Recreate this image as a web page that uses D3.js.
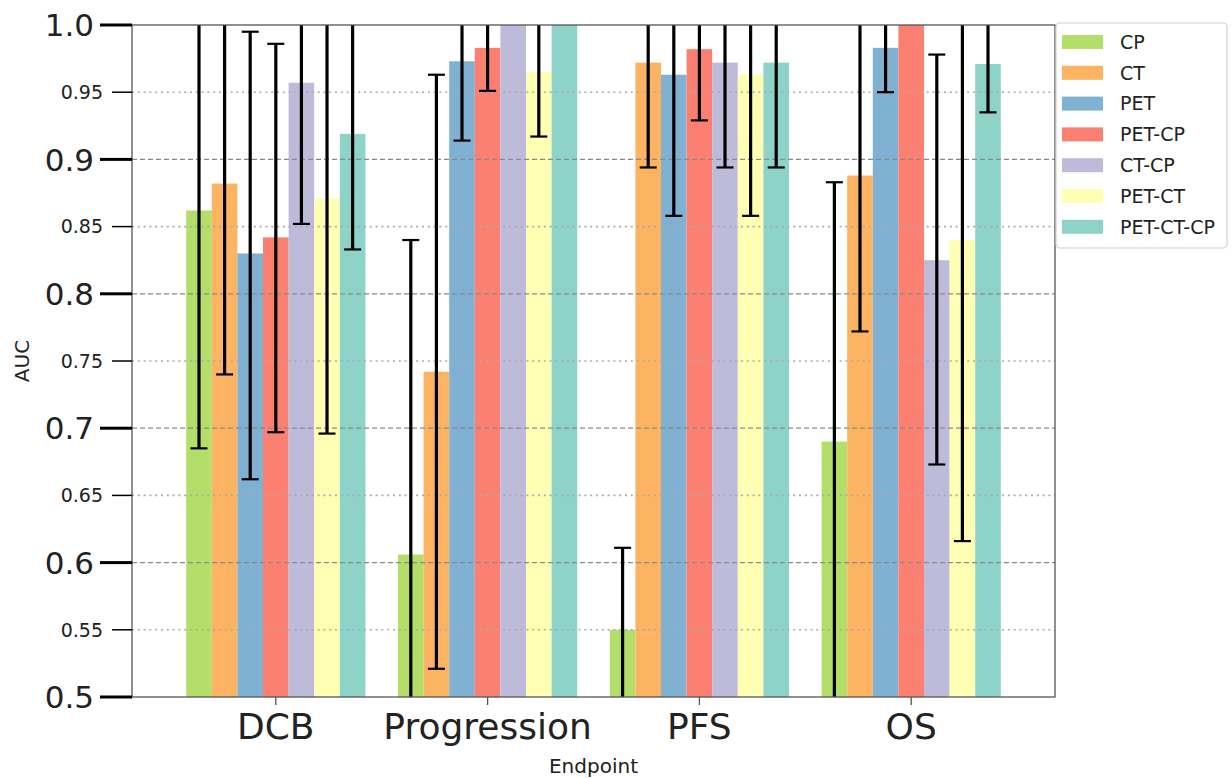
<!DOCTYPE html>
<html>
<head>
<meta charset="utf-8">
<script src="https://cdn.jsdelivr.net/npm/d3@7"></script>
<style>
  body { margin: 0; background: #fff; }
  text { font-family: "DejaVu Sans", sans-serif; fill: #222; }
</style>
</head>
<body>
<div id="chart"></div>
<script>

// data ====================

var endpoints = ["DCB", "Progression", "PFS", "OS"];
var models = ["CP", "CT", "PET", "PET-CP", "CT-CP", "PET-CT", "PET-CT-CP"];
var colors = ["#b3de69", "#fdb462", "#80b1d3", "#fb8072", "#bebada", "#ffffb3", "#8dd3c7"];

// auc per model, one entry per endpoint
var auc = {
  "CP":        [0.862, 0.606, 0.550, 0.690],
  "CT":        [0.882, 0.742, 0.972, 0.888],
  "PET":       [0.830, 0.973, 0.963, 0.983],
  "PET-CP":    [0.842, 0.983, 0.982, 1.000],
  "CT-CP":     [0.957, 1.000, 0.972, 0.825],
  "PET-CT":    [0.871, 0.965, 0.963, 0.840],
  "PET-CT-CP": [0.919, 1.000, 0.972, 0.971]
};
// confidence interval bounds (null = no bar)
var lower = {
  "CP":        [0.685, 0.40, 0.40, 0.40],
  "CT":        [0.740, 0.521, 0.894, 0.772],
  "PET":       [0.662, 0.914, 0.858, 0.950],
  "PET-CP":    [0.697, 0.951, 0.929, null],
  "CT-CP":     [0.852, null, 0.894, 0.673],
  "PET-CT":    [0.696, 0.917, 0.858, 0.616],
  "PET-CT-CP": [0.833, null, 0.894, 0.935]
};
var upper = {
  "CP":        [1.05, 0.840, 0.611, 0.883],
  "CT":        [1.05, 0.963, 1.05, 1.05],
  "PET":       [0.995, 1.05, 1.05, 1.05],
  "PET-CP":    [0.986, 1.05, 1.05, null],
  "CT-CP":     [1.05, null, 1.05, 0.978],
  "PET-CT":    [1.05, 1.05, 1.05, 1.05],
  "PET-CT-CP": [1.05, null, 1.05, 1.05]
};
var majorTicks = [0.5, 0.6, 0.7, 0.8, 0.9, 1.0];
var majorLabels = ["0.5", "0.6", "0.7", "0.8", "0.9", "1.0"];
var minorTicks = [0.55, 0.65, 0.75, 0.85, 0.95];

// layout ====================

var width = 1231, height = 778;
var mLeft = 132, mRight = 1055, mTop = 25, mBottom = 697;

var svg = d3.select('#chart')
  .append('svg')
  .attr('width', width)
  .attr('height', height);

var x0 = d3.scaleBand()
  .domain(endpoints)
  .range([mLeft, mRight])
  .paddingInner(0)
  .paddingOuter(0.179);

var x1 = d3.scaleBand()
  .domain(models)
  .range([0, x0.bandwidth()])
  .paddingInner(0)
  .paddingOuter(0.636);

var y = d3.scaleLinear()
  .domain([0.5, 1.0])
  .range([mBottom, mTop]);

var color = d3.scaleOrdinal().domain(models).range(colors);

svg.append('clipPath')
  .attr('id', 'plotclip')
  .append('rect')
  .attr('x', mLeft)
  .attr('y', mTop)
  .attr('width', mRight - mLeft)
  .attr('height', mBottom - mTop);

var plot = svg.append('g').attr('clip-path', 'url(#plotclip)');

// bars
models.forEach(function(m) {
  plot.selectAll('.bar-' + m)
    .data(endpoints)
    .enter()
    .append('rect')
    .attr('x', function(d) { return x0(d) + x1(m); })
    .attr('y', function(d, i) { return y(auc[m][i]); })
    .attr('width', x1.bandwidth())
    .attr('height', function(d, i) { return y(0.5) - y(auc[m][i]); })
    .style('fill', color(m));
});

// grid
plot.selectAll('.gmaj')
  .data(majorTicks.slice(1, -1))
  .enter()
  .append('line')
  .attr('x1', mLeft).attr('x2', mRight)
  .attr('y1', function(d) { return y(d); })
  .attr('y2', function(d) { return y(d); })
  .attr('stroke', '#8a8a8a')
  .attr('stroke-width', 1.3)
  .attr('stroke-dasharray', '5,3');

plot.selectAll('.gmin')
  .data(minorTicks)
  .enter()
  .append('line')
  .attr('x1', mLeft).attr('x2', mRight)
  .attr('y1', function(d) { return y(d); })
  .attr('y2', function(d) { return y(d); })
  .attr('stroke', '#aaa')
  .attr('stroke-width', 1.6)
  .attr('stroke-dasharray', '2,3.8');

// error bars
var capW = 17;
models.forEach(function(m) {
  endpoints.forEach(function(e, i) {
    if (lower[m][i] === null) return;
    var cx = x0(e) + x1(m) + x1.bandwidth() / 2;
    var g = plot.append('g');
    g.append('line')
      .attr('x1', cx).attr('x2', cx)
      .attr('y1', y(lower[m][i]))
      .attr('y2', y(upper[m][i]))
      .attr('stroke', '#000')
      .attr('stroke-width', 3.2);
    [lower[m][i], upper[m][i]].forEach(function(v) {
      g.append('line')
        .attr('x1', cx - capW / 2).attr('x2', cx + capW / 2)
        .attr('y1', y(v)).attr('y2', y(v))
        .attr('stroke', '#000')
        .attr('stroke-width', 2.2);
    });
  });
});

// frame
svg.append('rect')
  .attr('x', mLeft)
  .attr('y', mTop)
  .attr('width', mRight - mLeft)
  .attr('height', mBottom - mTop)
  .attr('fill', 'none')
  .attr('stroke', '#555')
  .attr('stroke-width', 1.3);

// y axis ticks
svg.selectAll('.ymaj')
  .data(majorTicks)
  .enter()
  .append('line')
  .attr('x1', mLeft - 32).attr('x2', mLeft)
  .attr('y1', function(d) { return y(d); })
  .attr('y2', function(d) { return y(d); })
  .attr('stroke', '#000')
  .attr('stroke-width', 3);

svg.selectAll('.ymajl')
  .data(majorTicks)
  .enter()
  .append('text')
  .attr('x', mLeft - 38)
  .attr('y', function(d) { return y(d); })
  .attr('dy', '0.36em')
  .attr('text-anchor', 'end')
  .style('font-size', '31px')
  .text(function(d, i) { return majorLabels[i]; });

svg.selectAll('.ymin')
  .data(minorTicks)
  .enter()
  .append('line')
  .attr('x1', mLeft - 20).attr('x2', mLeft)
  .attr('y1', function(d) { return y(d); })
  .attr('y2', function(d) { return y(d); })
  .attr('stroke', '#000')
  .attr('stroke-width', 1.5);

svg.selectAll('.yminl')
  .data(minorTicks)
  .enter()
  .append('text')
  .attr('x', mLeft - 29)
  .attr('y', function(d) { return y(d); })
  .attr('dy', '0.36em')
  .attr('text-anchor', 'end')
  .style('font-size', '19px')
  .text(function(d) { return d; });

// x axis
svg.selectAll('.xt')
  .data(endpoints)
  .enter()
  .append('line')
  .attr('x1', function(d) { return x0(d) + x0.bandwidth() / 2; })
  .attr('x2', function(d) { return x0(d) + x0.bandwidth() / 2; })
  .attr('y1', mBottom).attr('y2', mBottom + 8)
  .attr('stroke', '#555')
  .attr('stroke-width', 1.3);

svg.selectAll('.xl')
  .data(endpoints)
  .enter()
  .append('text')
  .attr('x', function(d) { return x0(d) + x0.bandwidth() / 2; })
  .attr('y', 739)
  .attr('text-anchor', 'middle')
  .style('font-size', '36px')
  .text(function(d) { return d; });

svg.append('text')
  .attr('x', (mLeft + mRight) / 2)
  .attr('y', 773)
  .attr('text-anchor', 'middle')
  .style('font-size', '20px')
  .text('Endpoint');

svg.append('text')
  .attr('transform', 'translate(29,' + ((mTop + mBottom) / 2) + ') rotate(-90)')
  .attr('text-anchor', 'middle')
  .style('font-size', '20px')
  .text('AUC');

// legend
var legend = svg.append('g').attr('transform', 'translate(1056,23)');

legend.append('rect')
  .attr('width', 171)
  .attr('height', 225)
  .attr('rx', 4)
  .attr('fill', '#fff')
  .attr('stroke', '#d0d0d0')
  .attr('stroke-width', 1.2);

var items = legend.selectAll('.item')
  .data(models)
  .enter()
  .append('g')
  .attr('transform', function(d, i) { return 'translate(0,' + (12 + i * 30.8) + ')'; });

items.append('rect')
  .attr('x', 6)
  .attr('width', 41)
  .attr('height', 14)
  .style('fill', function(d) { return color(d); });

items.append('text')
  .attr('x', 64)
  .attr('y', 7)
  .attr('dy', '0.36em')
  .style('font-size', '19px')
  .text(function(d) { return d; });

</script>
</body>
</html>
